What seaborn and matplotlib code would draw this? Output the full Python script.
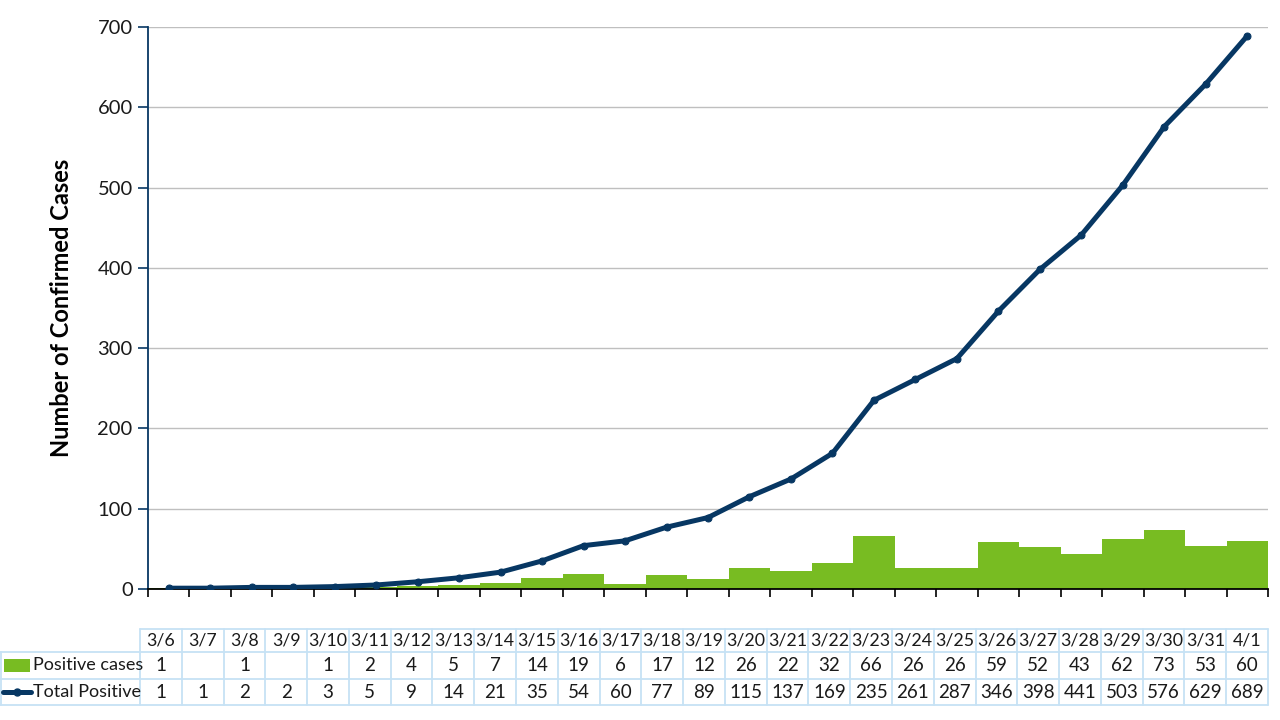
import numpy as np
import pandas as pd
import matplotlib
matplotlib.use("Agg")
import matplotlib.pyplot as plt
from matplotlib.lines import Line2D
from matplotlib.patches import Rectangle
import seaborn as sns

dates = ["3/6", "3/7", "3/8", "3/9", "3/10", "3/11", "3/12", "3/13", "3/14", "3/15",
         "3/16", "3/17", "3/18", "3/19", "3/20", "3/21", "3/22", "3/23", "3/24", "3/25",
         "3/26", "3/27", "3/28", "3/29", "3/30", "3/31", "4/1"]
positive_cases = [1, None, 1, None, 1, 2, 4, 5, 7, 14, 19, 6, 17, 12, 26, 22, 32, 66,
                  26, 26, 59, 52, 43, 62, 73, 53, 60]
total_positive = [1, 1, 2, 2, 3, 5, 9, 14, 21, 35, 54, 60, 77, 89, 115, 137, 169, 235,
                  261, 287, 346, 398, 441, 503, 576, 629, 689]
y_ticks = [0, 100, 200, 300, 400, 500, 600, 700]
series_names = ["Positive cases", "Total Positive"]

GREEN = "#78bc22"
NAVY = "#073763"
GRID = "#bfbfbf"
BORDER = "#c6e2f5"

sns.set_theme(style="white")
plt.rcParams["font.family"] = ["Lato", "DejaVu Sans"]

df = pd.DataFrame({
    "date": dates,
    "pos": [np.nan if v is None else v for v in positive_cases],
    "total": total_positive,
    "idx": np.arange(len(dates)),
})

W, H = 1280, 720
fig = plt.figure(figsize=(W / 100, H / 100), dpi=100)
ax_l, ax_r, ax_t, ax_b = 148, 1268, 27, 589
ax = fig.add_axes([ax_l / W, 1 - ax_b / H, (ax_r - ax_l) / W, (ax_b - ax_t) / H])

sns.barplot(data=df, x="date", y="pos", order=dates, color=GREEN, width=1.0,
            saturation=1, ax=ax, zorder=2, edgecolor="none", linewidth=0)
sns.lineplot(data=df, x="idx", y="total", color=NAVY, linewidth=3.6, marker="o",
             markersize=5, markeredgecolor=NAVY, ax=ax, zorder=3)

ax.set_xlim(-0.5, len(dates) - 0.5)
ax.set_ylim(0, 700)
ax.set_yticks(y_ticks)
ax.set_yticklabels([str(t) for t in y_ticks], fontsize=14.5, color="#1a1a1a")
ax.yaxis.grid(True, color=GRID, linewidth=1, zorder=0)
ax.set_axisbelow(True)
ax.set_xticks(np.arange(-0.5, len(dates) + 0.5, 1))
ax.set_xticklabels([])
ax.tick_params(axis="x", direction="out", length=6, width=1.2, color="#000000", bottom=True)
ax.tick_params(axis="y", direction="out", length=7, width=1.2, color=NAVY, left=True, pad=4)
ax.set_xlabel("")
ax.set_ylabel("Number of Confirmed Cases", fontsize=17, fontweight="bold",
              color="#000000")
ax.yaxis.set_label_coords((73 - ax_l) / (ax_r - ax_l), 0.5)
for s in ["top", "right"]:
    ax.spines[s].set_visible(False)
ax.spines["left"].set_color(NAVY)
ax.spines["left"].set_linewidth(1.3)
ax.spines["bottom"].set_color("#000000")
ax.spines["bottom"].set_linewidth(1.3)

# ---- data table below the chart (pixel layout) ----
def fx(px):
    return px / W

def fy(py):
    return 1 - py / H

t_left, t_right = 140, 1268
rows_y = [629, 652, 679, 705]
ncol = len(dates)
cw = (t_right - t_left) / ncol

def hline(x0, x1, y):
    fig.add_artist(Line2D([fx(x0), fx(x1)], [fy(y), fy(y)], color=BORDER, lw=1.3))

def vline(x, y0, y1):
    fig.add_artist(Line2D([fx(x), fx(x)], [fy(y0), fy(y1)], color=BORDER, lw=1.3))

hline(t_left, t_right, rows_y[0])
for y in rows_y[1:]:
    hline(0, t_right, y)
for i in range(ncol + 1):
    vline(t_left + i * cw, rows_y[0], rows_y[3])
vline(0.5, rows_y[1], rows_y[3])

fs = 13.5
for i, d in enumerate(dates):
    cx = t_left + (i + 0.5) * cw
    fig.text(fx(cx), fy((rows_y[0] + rows_y[1]) / 2), d, ha="center", va="center",
             fontsize=12.8, color="#1a1a1a")
    pv = positive_cases[i]
    if pv is not None:
        fig.text(fx(cx), fy((rows_y[1] + rows_y[2]) / 2), str(pv), ha="center",
                 va="center", fontsize=fs, color="#1a1a1a")
    fig.text(fx(cx), fy((rows_y[2] + rows_y[3]) / 2), str(total_positive[i]),
             ha="center", va="center", fontsize=fs, color="#1a1a1a")

# legend keys
fig.add_artist(Rectangle((fx(4), fy(672)), fx(30) - fx(4), fy(659) - fy(672),
                         facecolor=GREEN, edgecolor="none"))
fig.add_artist(Line2D([fx(3), fx(31)], [fy(692), fy(692)], color=NAVY, lw=3.6))
fig.add_artist(Line2D([fx(17)], [fy(692)], color=NAVY, marker="o", markersize=5))
fig.text(fx(33), fy((rows_y[1] + rows_y[2]) / 2), series_names[0], ha="left",
         va="center", fontsize=13, color="#1a1a1a")
fig.text(fx(33), fy((rows_y[2] + rows_y[3]) / 2), series_names[1], ha="left",
         va="center", fontsize=13, color="#1a1a1a")

fig.savefig("out.png", dpi=100, facecolor="white")
